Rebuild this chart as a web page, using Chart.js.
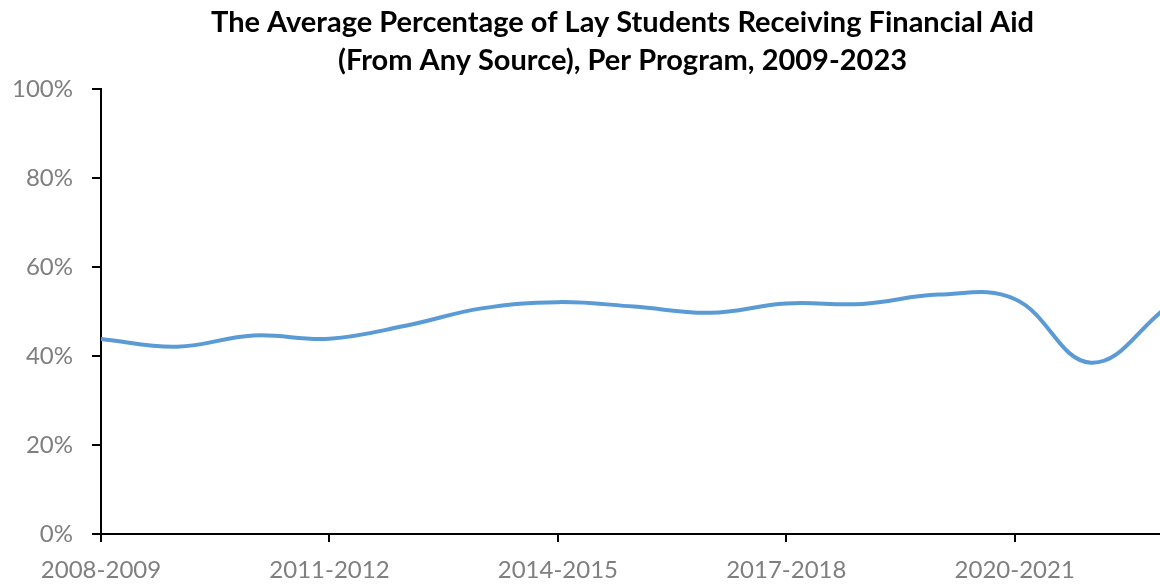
<!DOCTYPE html>
<html>
<head>
<meta charset="utf-8">
<script src="https://cdn.jsdelivr.net/npm/chart.js@4"></script>
<style>
  html, body { margin: 0; padding: 0; background: #fff; overflow: hidden; }
  #wrap { width: 1245px; height: 584px; position: relative; }
</style>
</head>
<body>
<div id="wrap"><canvas id="aid" width="1245" height="584"></canvas></div>
<script>
// School years on the horizontal axis
const years = [
  '2008-2009', '2009-2010', '2010-2011', '2011-2012', '2012-2013',
  '2013-2014', '2014-2015', '2015-2016', '2016-2017', '2017-2018',
  '2018-2019', '2019-2020', '2020-2021', '2021-2022', '2022-2023'
];

// Average share of lay students receiving aid (%)
const aidShare = [43.8, 42.1, 44.6, 43.9, 46.8, 50.7, 52.1, 51.1, 49.7, 51.8, 51.7, 53.8, 52.8, 38.5, 51.0];

// Vertical axis ticks (%)
const yTicks = [0, 20, 40, 60, 80, 100];

const titleLines = [
  'The Average Percentage of Lay Students Receiving Financial Aid',
  '(From Any Source), Per Program, 2009-2023'
];

const labelFont = { family: 'Lato, "Open Sans", sans-serif', size: 24 };
const gray = '#7f7f7f';

new Chart(document.getElementById('aid'), {
  type: 'line',
  data: {
    labels: years,
    datasets: [{
      data: aidShare,
      borderColor: '#5b9bd5',
      borderWidth: 4,
      pointRadius: 0,
      tension: 0.4,
      fill: false
    }]
  },
  options: {
    responsive: false,
    devicePixelRatio: 1,
    animation: false,
    layout: { padding: 0 },
    plugins: {
      legend: { display: false },
      tooltip: { enabled: false },
      title: {
        display: true,
        text: titleLines,
        color: '#000',
        font: { family: 'Lato, "Open Sans", sans-serif', size: 29, weight: 'bold', lineHeight: 1.31 },
        padding: { top: 4, bottom: 9 }
      }
    },
    scales: {
      x: {
        type: 'category',
        offset: false,
        border: { display: true, color: '#000', width: 2 },
        grid: {
          display: true,
          drawOnChartArea: false,
          drawTicks: true,
          tickLength: 8,
          lineWidth: 2,
          color: (ctx) => (ctx.index % 3 === 0 ? '#000' : 'rgba(0,0,0,0)')
        },
        ticks: {
          autoSkip: false,
          maxRotation: 0,
          minRotation: 0,
          color: gray,
          font: labelFont,
          padding: 14,
          callback: function (value, index) {
            return index % 3 === 0 ? this.getLabelForValue(value) : '';
          }
        },
        afterFit: (scale) => { scale.height = 50; }
      },
      y: {
        min: 0,
        max: 100,
        border: { display: true, color: '#000', width: 2 },
        grid: {
          display: true,
          drawOnChartArea: false,
          drawTicks: true,
          tickLength: 9,
          lineWidth: 2,
          color: '#000'
        },
        afterBuildTicks: (scale) => { scale.ticks = yTicks.map(v => ({ value: v })); },
        ticks: {
          color: gray,
          font: labelFont,
          padding: 19,
          callback: (v) => v + '%'
        },
        afterFit: (scale) => { scale.width = 101; }
      },
      // blank right-hand margin of the plot
      yRight: {
        position: 'right',
        min: 0,
        max: 100,
        border: { display: false },
        grid: { display: false },
        ticks: { display: false },
        afterFit: (scale) => { scale.width = 78; }
      }
    }
  }
});
</script>
</body>
</html>
